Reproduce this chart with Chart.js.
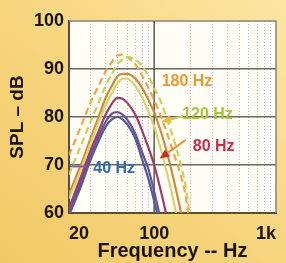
<!DOCTYPE html>
<html>
<head>
<meta charset="utf-8">
<script src="https://cdn.jsdelivr.net/npm/chart.js@4.4.1/dist/chart.umd.min.js"></script>
<style>
  html, body { margin: 0; padding: 0; }
  body {
    width: 286px; height: 263px; overflow: hidden;
    background: linear-gradient(to top right, #F2C967 0%, #F7D47C 45%, #FCE6A3 100%);
  }
  canvas { display: block; }
</style>
</head>
<body>
<canvas id="spl" width="286" height="263"></canvas>
<script>
// frequency points (Hz) shared by every curve
const freqs = [20, 25, 30, 35, 40, 45, 50, 55, 60, 70, 80, 90, 100, 110, 120, 140, 160, 180, 190, 200];

// SPL (dB)
const navyCurve   = [59.5, 65.5, 71, 75, 78, 79.5, 80, 79.5, 78.5, 75.5, 71, 67, 62.5, 58, 54, null, null, null, null, null];
const purpleCurve = [60, 66.5, 72, 76, 79, 80.7, 81, 80.5, 79.5, 76.5, 72.5, 69, 64.5, 60, 56, null, null, null, null, null];
const redCurve    = [61, 67.5, 73, 77, 80.5, 82.8, 84, 83.8, 83, 80.5, 77, 73.5, 70, 66, 62, 54, null, null, null, null];
const yellowCurve = [63, 69, 74.5, 79, 82.5, 85, 87, 88, 88, 86.5, 84, 81, 78, 74.5, 71, 64, 57, null, null, null];
const orangeCurve = [64, 70, 75.5, 80, 84, 86.5, 88.5, 89, 89, 88, 86, 83.5, 81, 78, 75, 68.5, 62, 56, null, null];
const dash180     = [72, 78, 83, 86.5, 89.5, 91.5, 92.8, 93, 92.5, 91, 88.5, 86, 83.5, 81, 78.5, 73.5, 69, 64, 60, 56];
const dash120     = [68, 74, 79, 83, 86.5, 89, 91, 92, 92.5, 92, 90.5, 88.5, 86, 84, 81.5, 76.5, 71.5, 66, 62, 58];

const yTicks = [60, 70, 80, 90, 100];
const xTickLabels = {20: '20', 100: '100', 1000: '1k'};

// curve labels (position in Hz / dB)
const noteText  = ['180 Hz', '120 Hz', '80 Hz', '40 Hz'];
const noteFreq  = [186, 274, 308, 47];
const noteDb    = [87.4, 80.6, 73.8, 69.2];
const noteColor = ['#E49A30', '#A6C43E', '#C2304C', '#2F6BAF'];

function pts(vals) {
  return freqs.map((f, i) => ({x: f, y: vals[i]}));
}

function curve(vals, color, dash) {
  return {
    data: pts(vals),
    borderColor: color,
    borderWidth: 2.2,
    borderDash: dash || [],
    pointRadius: 0,
    cubicInterpolationMode: 'monotone',
    clip: 0
  };
}

const gridColors = {20: 'rgba(0,0,0,0)', 30: '#CFA4B8', 40: '#E6B48C', 50: '#DCA0B4', 60: '#BBA8D8',
  70: '#E2B898', 80: '#CFA0BC', 90: '#BBB0D2', 100: 'rgba(0,0,0,0)', 200: '#E4A898', 300: '#BBA4D8',
  400: '#B0B6CA', 500: '#BCB2C2', 600: '#B2B6CE', 700: '#BCB2BE', 800: '#B0B6CA', 900: '#BCB2C2', 1000: 'rgba(0,0,0,0)'};

function arrow(ctx, x1, y1, x2, y2, lineColor, headColor) {
  ctx.strokeStyle = lineColor;
  ctx.lineWidth = 2;
  ctx.beginPath();
  ctx.moveTo(x1, y1);
  ctx.lineTo(x2, y2);
  ctx.stroke();
  const a = Math.atan2(y2 - y1, x2 - x1);
  ctx.fillStyle = headColor;
  ctx.beginPath();
  ctx.moveTo(x2, y2);
  ctx.lineTo(x2 - 10 * Math.cos(a - 0.45), y2 - 10 * Math.sin(a - 0.45));
  ctx.lineTo(x2 - 10 * Math.cos(a + 0.45), y2 - 10 * Math.sin(a + 0.45));
  ctx.closePath();
  ctx.fill();
}

const plotDecor = {
  id: 'plotDecor',
  beforeDraw(chart) {
    const {ctx, chartArea: a} = chart;
    ctx.save();
    ctx.fillStyle = '#FFFDF6';
    ctx.fillRect(a.left, a.top, a.right - a.left, a.bottom - a.top);
    ctx.restore();
  },
  beforeDatasetsDraw(chart) {
    const {ctx, chartArea: a, scales} = chart;
    const x100 = scales.x.getPixelForValue(100);
    ctx.save();
    ctx.strokeStyle = '#8C8478';
    ctx.lineWidth = 1.5;
    ctx.beginPath();
    ctx.moveTo(a.left, a.top);
    ctx.lineTo(a.right, a.top);
    ctx.lineTo(a.right, a.bottom);
    ctx.stroke();
    ctx.strokeStyle = '#5E574C';
    ctx.beginPath();
    ctx.moveTo(x100, a.top);
    ctx.lineTo(x100, a.bottom);
    ctx.stroke();
    ctx.restore();
  },
  afterDatasetsDraw(chart) {
    const {ctx, scales: {x, y}} = chart;
    ctx.save();
    arrow(ctx, x.getPixelForValue(181), y.getPixelForValue(75.2), x.getPixelForValue(112), y.getPixelForValue(71.4), '#EE8A30', '#C0302A');
    arrow(ctx, x.getPixelForValue(172), y.getPixelForValue(80.2), x.getPixelForValue(116), y.getPixelForValue(79), '#C8C850', '#E8C030');
    ctx.strokeStyle = '#8A5AA0';
    ctx.lineWidth = 2;
    ctx.beginPath();
    ctx.moveTo(x.getPixelForValue(20.4), y.getPixelForValue(69.7));
    ctx.lineTo(x.getPixelForValue(28), y.getPixelForValue(69.7));
    ctx.stroke();
    ctx.font = 'bold 16px "Liberation Sans", Arial, sans-serif';
    ctx.textAlign = 'center';
    ctx.textBaseline = 'middle';
    noteText.forEach((t, i) => {
      ctx.fillStyle = noteColor[i];
      ctx.fillText(t, x.getPixelForValue(noteFreq[i]), y.getPixelForValue(noteDb[i]));
    });
    ctx.restore();
  }
};

new Chart(document.getElementById('spl'), {
  type: 'line',
  data: {
    datasets: [
      curve(dash120, '#C8D25A', [7, 4]),
      curve(dash180, '#EDA844', [7, 4]),
      curve(yellowCurve, '#D9D46A'),
      curve(orangeCurve, '#D08A3C'),
      curve(redCurve, '#9C3C68'),
      curve(purpleCurve, '#6C4E9E'),
      curve(navyCurve, '#4A6090')
    ]
  },
  options: {
    responsive: false,
    animation: false,
    devicePixelRatio: 1,
    layout: {padding: {top: 21, right: 8, left: 0, bottom: 0}},
    plugins: {
      legend: {display: false},
      tooltip: {enabled: false}
    },
    scales: {
      x: {
        type: 'logarithmic',
        min: 20,
        max: 1000,
        afterFit: s => { s.height = 50; },
        border: {display: true, color: '#5A4C3C', width: 2, dash: [1, 2]},
        grid: {
          drawTicks: false,
          lineWidth: 1,
          color: c => gridColors[c.tick && c.tick.value] || 'rgba(0,0,0,0)'
        },
        ticks: {
          autoSkip: false,
          maxRotation: 0,
          align: 'inner',
          padding: 10,
          color: '#1A1410',
          font: {family: '"Liberation Sans", Arial, sans-serif', size: 18, weight: 'bold'},
          callback: v => xTickLabels[v] || ''
        },
        title: {
          display: true,
          text: 'Frequency -- Hz',
          color: '#1A1410',
          padding: {top: 0, bottom: 0},
          font: {family: '"Liberation Sans", Arial, sans-serif', size: 20, weight: 'bold'}
        }
      },
      y: {
        min: 60,
        max: 100,
        afterFit: s => { s.width = 69; },
        afterBuildTicks: s => { s.ticks = yTicks.map(v => ({value: v})); },
        border: {display: true, color: '#5A4C3C', width: 2},
        grid: {
          drawTicks: false,
          lineWidth: 1.5,
          color: c => (c.tick && (c.tick.value === 60 || c.tick.value === 100)) ? 'rgba(0,0,0,0)' : '#6E665A'
        },
        ticks: {
          padding: 5,
          color: '#1A1410',
          font: {family: '"Liberation Sans", Arial, sans-serif', size: 18, weight: 'bold'}
        },
        title: {
          display: true,
          text: 'SPL – dB',
          color: '#1A1410',
          padding: {top: 6, bottom: 0},
          font: {family: '"Liberation Sans", Arial, sans-serif', size: 19, weight: 'bold'}
        }
      }
    }
  },
  plugins: [plotDecor]
});
</script>
</body>
</html>
